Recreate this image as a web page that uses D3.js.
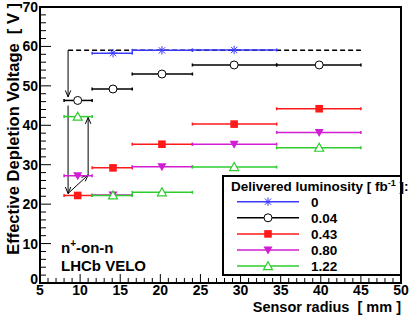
<!DOCTYPE html>
<html>
<head>
<meta charset="utf-8">
<script src="https://cdn.jsdelivr.net/npm/d3@7"></script>
<style>
  body { margin: 0; background: #fff; }
  .chart { width: 410px; height: 315px; }
  text { font-family: "Liberation Sans", Arial, Helvetica, sans-serif; font-weight: bold; }
</style>
</head>
<body>
<div class="chart"></div>
<script>
// values
let binEdges = [8, 11.5, 16.5, 24, 34.5, 45];
let radiusCentres = [9.7, 14.1, 20.2, 29.2, 39.8];
let luminosities = ["0", "0.04", "0.43", "0.80", "1.22"];
let voltageLumi0 = [null, 58.3, 59.0, 59.1, null];
let voltageLumi004 = [46.3, 49.2, 53.0, 55.3, 55.3];
let voltageLumi043 = [22.2, 29.2, 35.2, 40.3, 44.2];
let voltageLumi080 = [27.2, 22.3, 29.5, 35.2, 38.2];
let voltageLumi122 = [42.2, 22.2, 23.0, 29.4, 34.3];
let xTicks = [5, 10, 15, 20, 25, 30, 35, 40, 45, 50];
let yTicks = [0, 10, 20, 30, 40, 50, 60, 70];

// dashed reference level and the arrows (data coordinates)
let initialLevel = 59;
let levelRange = [8.5, 45];
let arrowStart = [[8.5, 59], [8.5, 45], [8.5, 22.7], [11, 27.4]];
let arrowEnd = [[8.5, 47.2], [8.5, 22.7], [11, 27.4], [11, 42]];

let chart = {};

let seriesStyle = {
    "0": { color: "#3a3aff", marker: "star" },
    "0.04": { color: "#000000", marker: "circle" },
    "0.43": { color: "#ff1a1a", marker: "square" },
    "0.80": { color: "#d21ed2", marker: "triangleDown" },
    "1.22": { color: "#2ecc2e", marker: "triangleUp" }
};

chart.theData = [voltageLumi0, voltageLumi004, voltageLumi043, voltageLumi080, voltageLumi122].map((vals, i) => {
    return {
        id: luminosities[i],
        values: vals.map((v, j) => {
            return { lo: binEdges[j], hi: binEdges[j + 1], r: radiusCentres[j], v: v };
        }).filter(d => d.v !== null)
    };
});

chart.margin = { top: 7, right: 9, bottom: 32, left: 40 };
chart.width = 410 - chart.margin.left - chart.margin.right;
chart.height = 315 - chart.margin.top - chart.margin.bottom;

chart.xScale = d3.scaleLinear().domain([5, 50]).range([0, chart.width]);
chart.yScale = d3.scaleLinear().domain([0, 70]).range([chart.height, 0]);

chart.svg = d3.select(".chart").append("svg")
    .attr("width", 410)
    .attr("height", 315);

chart.plot = chart.svg.append("g")
    .attr("transform", `translate(${chart.margin.left},${chart.margin.top})`);

function drawMarker(g, type, color) {
    if (type === "star") {
        let s = 4.2;
        g.append("path")
            .attr("d", `M${-s},0H${s}M0,${-s}V${s}M${-s * 0.75},${-s * 0.75}L${s * 0.75},${s * 0.75}M${-s * 0.75},${s * 0.75}L${s * 0.75},${-s * 0.75}`)
            .attr("stroke", color).attr("stroke-width", 1).attr("fill", "none");
    } else if (type === "circle") {
        g.append("circle").attr("r", 4).attr("fill", "#fff").attr("stroke", color).attr("stroke-width", 1);
    } else if (type === "square") {
        g.append("rect").attr("x", -3.8).attr("y", -3.8).attr("width", 7.6).attr("height", 7.6).attr("fill", color);
    } else if (type === "triangleDown") {
        g.append("path").attr("d", "M-4.5,-3.5L4.5,-3.5L0,4.5Z").attr("fill", color);
    } else if (type === "triangleUp") {
        g.append("path").attr("d", "M-4.5,3.5L4.5,3.5L0,-4.5Z").attr("fill", "#fff").attr("stroke", color).attr("stroke-width", 1.2);
    }
}

// axes (ticks inside the frame)
let xMinor = d3.range(5, 50.01, 1);
let yMinor = d3.range(0, 70.01, 2);

chart.plot.append("g").selectAll("line")
    .data(xMinor)
    .join("line")
    .attr("x1", d => chart.xScale(d))
    .attr("x2", d => chart.xScale(d))
    .attr("y1", chart.height)
    .attr("y2", d => chart.height - (xTicks.includes(d) ? 9 : 5))
    .attr("stroke", "#000").attr("stroke-width", 1);

chart.plot.append("g").selectAll("line")
    .data(yMinor)
    .join("line")
    .attr("y1", d => chart.yScale(d))
    .attr("y2", d => chart.yScale(d))
    .attr("x1", 0)
    .attr("x2", d => (yTicks.includes(d) ? 11 : 6))
    .attr("stroke", "#000").attr("stroke-width", 1);

chart.plot.append("g").selectAll("text")
    .data(xTicks)
    .join("text")
    .attr("x", d => chart.xScale(d))
    .attr("y", chart.height + 12)
    .attr("text-anchor", "middle")
    .attr("font-size", 14)
    .text(d => d);

// the "0" sits a little higher so it clears the "5" below it
chart.plot.append("g").selectAll("text")
    .data(yTicks)
    .join("text")
    .attr("x", -2)
    .attr("y", d => chart.yScale(d) + (d === 0 ? 1 : 5))
    .attr("text-anchor", "end")
    .attr("font-size", 14)
    .text(d => d);

chart.plot.append("rect")
    .attr("width", chart.width)
    .attr("height", chart.height)
    .attr("fill", "none")
    .attr("stroke", "#000")
    .attr("stroke-width", 2);

// axis titles
chart.svg.append("text")
    .attr("x", 401)
    .attr("y", 312)
    .attr("text-anchor", "end")
    .attr("font-size", 14.5)
    .attr("xml:space", "preserve")
    .text("Sensor radius  [ mm ]");

chart.svg.append("text")
    .attr("transform", "translate(19,3) rotate(-90)")
    .attr("text-anchor", "end")
    .attr("font-size", 16.5)
    .attr("xml:space", "preserve")
    .text("Effective Depletion Voltage  [ V ]");

// dashed level
chart.plot.append("line")
    .attr("x1", chart.xScale(levelRange[0]))
    .attr("x2", chart.xScale(levelRange[1]))
    .attr("y1", chart.yScale(initialLevel))
    .attr("y2", chart.yScale(initialLevel))
    .attr("stroke", "#000")
    .attr("stroke-width", 1.5)
    .attr("stroke-dasharray", "5,3");

// arrows
arrowStart.forEach((s, i) => {
    let x1 = chart.xScale(s[0]), y1 = chart.yScale(s[1]);
    let x2 = chart.xScale(arrowEnd[i][0]), y2 = chart.yScale(arrowEnd[i][1]);
    let ang = Math.atan2(y2 - y1, x2 - x1);
    let len = 7, spread = 0.4;
    let head = `M${x2 - len * Math.cos(ang - spread)},${y2 - len * Math.sin(ang - spread)}L${x2},${y2}L${x2 - len * Math.cos(ang + spread)},${y2 - len * Math.sin(ang + spread)}`;
    chart.plot.append("path")
        .attr("d", `M${x1},${y1}L${x2},${y2}` + head)
        .attr("fill", "none")
        .attr("stroke", "#000")
        .attr("stroke-width", 1);
});

// series: horizontal bin bars with end caps and a marker
chart.lineGroup = chart.plot.selectAll(".line-group")
    .data(chart.theData)
    .join("g")
    .attr("class", "line-group");

chart.lineGroup.each(function(series) {
    let g = d3.select(this);
    let st = seriesStyle[series.id];
    series.values.forEach(d => {
        let y = chart.yScale(d.v);
        g.append("line")
            .attr("x1", chart.xScale(d.lo)).attr("x2", chart.xScale(d.hi))
            .attr("y1", y).attr("y2", y)
            .attr("stroke", st.color).attr("stroke-width", 1.5);
        [d.lo, d.hi].forEach(e => {
            g.append("line")
                .attr("x1", chart.xScale(e)).attr("x2", chart.xScale(e))
                .attr("y1", y - 1.5).attr("y2", y + 1.5)
                .attr("stroke", st.color).attr("stroke-width", 1.5);
        });
        let m = g.append("g").attr("transform", `translate(${chart.xScale(d.r)},${y})`);
        drawMarker(m, st.marker, st.color);
    });
});

// legend
let legend = chart.svg.append("g").attr("transform", "translate(223,176)");
legend.append("rect")
    .attr("width", 178).attr("height", 99)
    .attr("fill", "#fff").attr("stroke", "#000").attr("stroke-width", 2);

let title = legend.append("text").attr("x", 8).attr("y", 15).attr("font-size", 13.5);
title.append("tspan").text("Delivered luminosity [ fb");
title.append("tspan").attr("dy", -5).attr("font-size", 9).text("-1");
title.append("tspan").attr("dy", 5).text(" ]:");

luminosities.forEach((lumi, i) => {
    let st = seriesStyle[lumi];
    let row = legend.append("g").attr("transform", `translate(0,${25.7 + i * 16.1})`);
    row.append("line").attr("x1", 14).attr("x2", 76)
        .attr("stroke", st.color).attr("stroke-width", 1.5);
    drawMarker(row.append("g").attr("transform", "translate(45,0)"), st.marker, st.color);
    row.append("text").attr("x", 88).attr("y", 5).attr("font-size", 13.5).text(lumi);
});

// labels
let note = chart.svg.append("text").attr("x", 61).attr("y", 253).attr("font-size", 15);
note.append("tspan").text("n");
note.append("tspan").attr("dy", -6).attr("font-size", 10).text("+");
note.append("tspan").attr("dy", 6).text("-on-n");
chart.svg.append("text").attr("x", 61).attr("y", 271).attr("font-size", 15).text("LHCb VELO");
</script>
</body>
</html>
